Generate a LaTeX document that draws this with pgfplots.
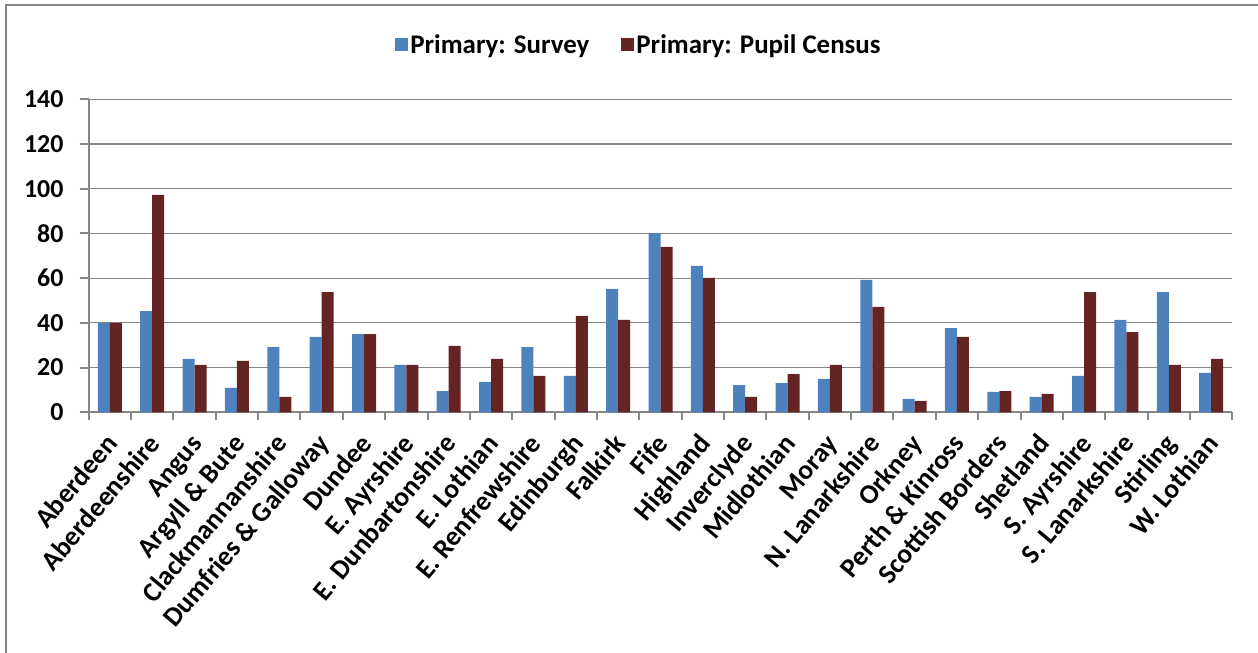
\documentclass[border=0pt]{standalone}
\usepackage{pgfplots}
\pgfplotsset{compat=1.18}
\usepackage{pgfplotstable}
\usepackage{fontspec}
\setmainfont{Carlito}
\definecolor{survey}{HTML}{4F81BD}
\definecolor{census}{HTML}{632423}
\definecolor{gridgray}{HTML}{868686}
\pgfplotstableread{
idx survey census
0 40 40
1 45.3 97.2
2 23.9 21.2
3 10.9 23.0
4 29.2 6.9
5 33.7 53.8
6 35.0 35.0
7 21.2 21.2
8 9.5 29.7
9 13.6 23.9
10 29.2 16.3
11 16.3 43.1
12 55.2 41.3
13 80.1 74.0
14 65.5 60.1
15 12.2 6.9
16 13.1 17.1
17 14.9 21.2
18 59.2 47.1
19 6.0 5.1
20 37.7 33.7
21 9.1 9.5
22 6.9 8.2
23 16.3 53.8
24 41.3 35.9
25 53.8 21.2
26 17.6 23.9
}\datatable
\begin{document}
\begin{tikzpicture}
\begin{axis}[
  at={(88.7bp,240.7bp)}, anchor=south west,
  scale only axis, width=1143.6bp, height=313bp,
  ybar=0pt, bar width=12bp,
  xmin=-0.5, xmax=26.5, ymin=0, ymax=140,
  ytick={0,20,...,140},
  xtick={0,...,26},
  xticklabels={Aberdeen,Aberdeenshire,Angus,Argyll \& Bute,Clackmannanshire,Dumfries \& Galloway,Dundee,E. Ayrshire,E. Dunbartonshire,E. Lothian,E. Renfrewshire,Edinburgh,Falkirk,Fife,Highland,Inverclyde,Midlothian,Moray,N. Lanarkshire,Orkney,Perth \& Kinross,Scottish Borders,Shetland,S. Ayrshire,S. Lanarkshire,Stirling,W. Lothian},
  minor xtick={-0.5,0.5,...,26.5},
  ymajorgrids, grid style={gridgray, line width=1.2bp},
  axis x line*=bottom, axis y line*=left,
  axis line style={gridgray, line width=2bp, -},
  tick align=outside,
  major tick length=9bp, minor tick length=8bp,
  tick style={gridgray, line width=2bp},
  major x tick style={draw=none},
  /pgf/number format/assume math mode=true,
  ticklabel style={font=\fontsize{26}{30}\selectfont\bfseries},
  yticklabel style={anchor=east, inner sep=0pt, xshift=-16bp},
  xticklabel style={anchor=base east, inner sep=0pt, xshift=9bp, yshift=-23bp, rotate=50,
    font=\fontsize{27.5}{32}\selectfont\bfseries},
  legend style={at={(0.4812,1.1735)}, anchor=center, draw=none, fill=none,
    legend columns=-1, font=\fontsize{27}{31}\selectfont\bfseries,
    /tikz/every even column/.append style={column sep=30bp}},
  legend image code/.code={\fill[#1] (0bp,-6.5bp) rectangle (13bp,6.5bp);},
]
\addplot[fill=survey, draw=none] table[x=idx, y=survey] {\datatable};
\addplot[fill=census, draw=none] table[x=idx, y=census] {\datatable};
\legend{Primary: Survey, Primary: Pupil Census}
\end{axis}
\draw[gridgray, line width=2.5bp] (6bp,0) -- (6bp,648.2bp) -- (1258bp,648.2bp);
\pgfresetboundingbox
\useasboundingbox (0,0) rectangle (1258bp,653bp);
\end{tikzpicture}
\end{document}
